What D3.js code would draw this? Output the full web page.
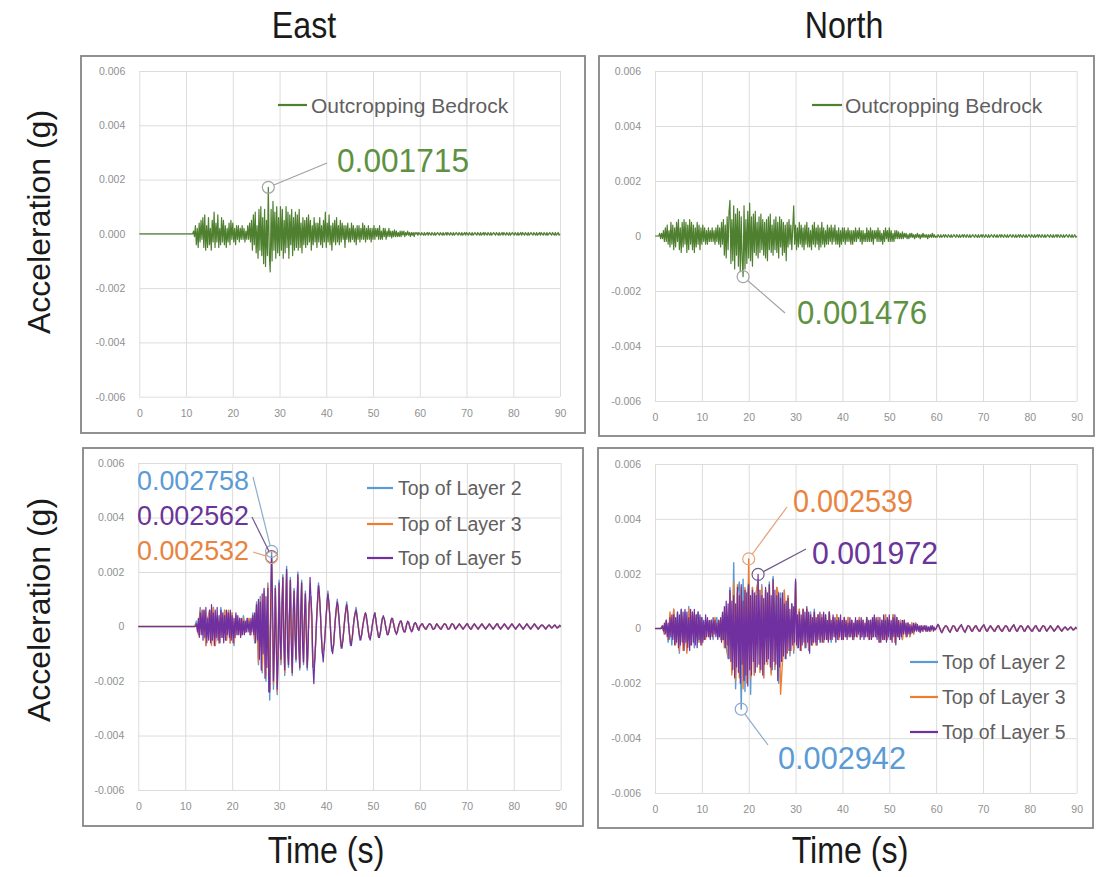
<!DOCTYPE html>
<html><head><meta charset="utf-8">
<script src="https://cdn.jsdelivr.net/npm/d3@7"></script>
<style>body{margin:0;background:#fff}svg{display:block}text{font-family:"Liberation Sans",Arial,sans-serif}</style>
</head><body>
<svg id="chart" width="1096" height="877"></svg>
<script>
// ---------------- data ----------------
const DT_FINE = 0.2;   // sampling interval (s) of the bedrock and Layer 5 records, first sample at t = 0
const DT_COARSE = 0.4; // sampling interval (s) of the Layer 2 and Layer 3 records, first sample at t = 0
const UNIT = 1e-4;     // record values below are in units of 1e-4 g
const xTickValues = [0,10,20,30,40,50,60,70,80,90];
const yTickValues = [0.006,0.004,0.002,0,-0.002,-0.004,-0.006];
const yTickLabelsA = ["0.006","0.004","0.002","0.000","-0.002","-0.004","-0.006"];
const yTickLabelsB = ["0.006","0.004","0.002","0","-0.002","-0.004","-0.006"];
const columnTitles = ["East","North"];
const yTitle = "Acceleration (g)";
const xTitle = "Time (s)";
const seriesNames = ["Outcropping Bedrock","Top of Layer 2","Top of Layer 3","Top of Layer 5"];

// East, outcropping bedrock (dt = 0.2 s)
const eastBedrock = [
0,0,0,0,0,0,0,0,0,0,
0,0,0,0,0,0,0,0,0,0,
0,0,0,0,0,0,0,0,0,0,
0,0,0,0,0,0,0,0,0,0,
0,0,0,0,0,0,0,0,0,0,
0,0,0,0,0,0,0,0,1,-1,
3,-4,2,-5,4,-3,5,-2,6,-5,
7,-6,3,-5,6,-4,2,-6,5,-3,
8,-5,4,-3,7,-5,2,-4,6,-3,
5,-4,3,-5,2,-3,4,-4,5,-2,
4,-3,2,-4,3,-2,3,-3,2,-2,
3,-2,2,-3,1,-2,3,-2,4,-3,
5,-6,7,-4,8,-7,3,-9,9,-6,
10,-8,6,-11,9,-12,5,-8,17.15,-7,
-14,9,-10,12,-6,8,-9,10,-7,6,
-8,10,-6,9,-9,5,-7,10,-5,8,
-9,7,-4,9,-8,6,-6,8,-5,7,
-6,9,-5,4,-7,6,-4,5,-5,6,
-4,7,-3,5,-6,3,-4,6,-3,4,
-5,4,-3,6,-4,3,-5,5,-3,8,
-5,4,-3,7,-4,3,-6,4,-3,5,
-4,6,-3,3,-4,5,-3,4,-2,3,
-5,3,-2,4,-3,2,-3,4,-2,3,
-3,2,-4,3,-2,3,-3,2,-2,4,
-2,3,-3,2,-2,3,-2,2,-3,2,
-2,3,-2,2,-1,2,-2,3,-2,1,
-2,2,-1,2,-2,1,-1,2,-1,1,
-1.5,1,-1,1.5,-1,1,-1,0.5,-1,1,
-1,1,-0.5,1,-1,0.5,-0.5,1,-0.5,0.5,
-1,0.5,-0.5,0.5,-1,0.5,0,0.5,-0.5,0.5,
0,-0.5,0.5,0,-0.5,0.5,-0.5,0,0.5,-0.5,
0.5,0,-0.5,0.5,0,-0.5,0.5,-0.5,0,0.5,
0,-0.5,0.5,0,-0.5,0.5,-0.5,0,0.5,-0.5,
0.5,0,-0.5,0.5,0,-0.5,0.5,-0.5,0,0.5,
0,-0.5,0.5,0,-0.5,0.5,-0.5,0,0.5,-0.5,
0.5,0,-0.5,0.5,0,-0.5,0.5,-0.5,0,0.5,
0,-0.5,0.5,0,-0.5,0.5,-0.5,0,0.5,-0.5,
0.5,0,-0.5,0.5,0,-0.5,0.5,-0.5,0,0.5,
0,-0.5,0.5,0,-0.5,0.5,-0.5,0,0.5,-0.5,
0.5,0,-0.5,0.5,0,-0.5,0.5,-0.5,0,0.5,
0,-0.5,0.5,0,-0.5,0.5,-0.5,0,0.5,-0.5,
0.5,0,-0.5,0.5,0,-0.5,0.5,-0.5,0,0.5,
0,-0.5,0.5,0,-0.5,0.5,-0.5,0,0.5,-0.5,
0.5,0,-0.5,0.5,0,-0.5,0.5,-0.5,0,0.5,
0,-0.5,0.5,0,-0.5,0.5,-0.5,0,0.5,-0.5,
0];

// North, outcropping bedrock (dt = 0.2 s)
const northBedrock = [
0,0,0,0,0,1,-1,1,-1,2,
-2,3,-2,4,-3,2,-4,5,-3,4,
-5,3,-4,5,-2,6,-5,3,-6,5,
-4,6,-3,5,-6,4,-5,6,-3,5,
-5,4,-6,3,-4,5,-3,4,-5,3,
-3,4,-2,3,-3,2,-3,3,-2,2,
-2,3,-2,2,-3,3,-2,4,-3,3,
-4,5,-3,6,-7,4,-8,7,-5,9,
13,-10,6,-9,11,-12,8,-7,10,-11,
9,-13,7,-9,-14.76,11,-12,6,-10,9,
-8,12,-9,7,-11,8,-6,9,-7,5,
-8,7,-6,8,-5,6,-7,5,-8,6,
-9,7,-5,8,-6,4,-7,6,-5,7,
-6,5,-8,7,-4,6,-7,5,-6,4,
-9,5,-4,6,-3,4,-5,3,11,-3,
4,-5,3,-4,5,-3,4,-4,3,-5,
4,-3,5,-4,3,-4,2,-5,4,-3,
5,-4,3,-3,4,-5,3,-4,5,-3,
3,-4,2,-3,4,-3,3,-2,4,-3,
3,-2,4,-3,2,-3,3,-4,2,-3,
3,-2,3,-3,2,-2,3,-2,2,-3,
2,-3,2,-2,3,-2,2,-1,3,-2,
2,-3,2,-2,1,-2,3,-2,2,-2,
3,-2,2,-3,2,-1,2,-2,3,-2,
2,-2,1,-3,2,-2,3,-1,2,-2,
3,-2,2,-2,1,-2,2,-1,2,-1,
1.5,-1,1,-1,1.5,-1,1,-0.5,1,-1,
0.5,-1,1,-0.5,1,-0.5,0.5,-1,0.5,-0.5,
1,-0.5,0.5,-1,0.5,-0.5,1,-0.5,0.5,-0.5,
0.5,-1,0.5,-0.5,0.5,-0.5,1,-0.5,0.5,-0.5,
0,-0.5,0.5,0,-0.5,0.5,-0.5,0,0.5,-0.5,
0.5,0,-0.5,0.5,0,-0.5,0.5,-0.5,0,0.5,
0,-0.5,0.5,0,-0.5,0.5,-0.5,0,0.5,-0.5,
0.5,0,-0.5,0.5,0,-0.5,0.5,-0.5,0,0.5,
0,-0.5,0.5,0,-0.5,0.5,-0.5,0,0.5,-0.5,
0.5,0,-0.5,0.5,0,-0.5,0.5,-0.5,0,0.5,
0,-0.5,0.5,0,-0.5,0.5,-0.5,0,0.5,-0.5,
0.5,0,-0.5,0.5,0,-0.5,0.5,-0.5,0,0.5,
0,-0.5,0.5,0,-0.5,0.5,-0.5,0,0.5,-0.5,
0.5,0,-0.5,0.5,0,-0.5,0.5,-0.5,0,0.5,
0,-0.5,0.5,0,-0.5,0.5,-0.5,0,0.5,-0.5,
0.5,0,-0.5,0.5,0,-0.5,0.5,-0.5,0,0.5,
0,-0.5,0.5,0,-0.5,0.5,-0.5,0,0.5,-0.5,
0.5,0,-0.5,0.5,0,-0.5,0.5,-0.5,0,0.5,
0,-0.5,0.5,0,-0.5,0.5,-0.5,0,0.5,-0.5,
0];

// East, top of Layer 2 (dt = 0.4 s)
const eastLayer2 = [
0,0,0,0,0,0,0,0,0,0,
0,0,0,0,0,0,0,0,0,0,
0,0,0,0,0,0,0,0,0,0,
0,2,-2,7,-3,5,-7,2,6,-4,
7,-7,3,-6,7,-2,6,-5,5,-6,
5,-7,4,-2,3,-3,4,-2,3,2,
-3,5,-6,9,-14,11,-17,13,-20,16,
-27,27.58,-23,15,-25,17,-14,19,-18,22,
-15,18,-18,14,-13,20,-16,17,-14,13,
-16,9,11,-15,-13,3,16,5,-10,-8,
3,13,4,-9,-7,3,10,2,-8,-5,
3,9,1,-7,-4,3,7,1,-5,-3,
2,5,1,-4,-3,2,5,0,-4,-2,
3,3,-1,-3,0,3,1,-2,-2,1,
2,-1,-2,1,1.5,-1,-1.5,1,1,-1,
0,1,0,-1,0,1,0.5,-1,-0.5,1,
0,-1,0,1,0.5,-1,-0.5,1,0.5,-1,
0,1,0,-1,0,1,0,-1,0,1,
0,-1,0,1,0,-1,0,1,0,-1,
0,1,0,-1,0,1,0,-1,0,1,
0,-1,0,1,0,-1,0,1,0,-1,
0,1,0,-1,0,0.5,0,-1,0,0.5,
-0.5,0,0.5,-0.5,0,0];

// East, top of Layer 3 (dt = 0.4 s)
const eastLayer3 = [
0,0,0,0,0,0,0,0,0,0,
0,0,0,0,0,0,0,0,0,0,
0,0,0,0,0,0,0,0,0,0,
0,1,-3,6,-2,6,-7,3,6,-7,
7,-7,2,-6,5,-4,6,-5,6,-6,
5,-6,4,-3,3,-3,3,-2,2,3,
-3,4,-5,8,-13,10,-16,12,-18,15,
-23,25.32,-21,14,-24,15,-13,18,-17,20,
-14,17,-17,13,-12,18,-15,16,-13,12,
-15,8,10,-14,-12,3,15,5,-9,-8,
3,12,4,-8,-7,3,9,2,-7,-5,
3,8,1,-6,-4,3,6,1,-4,-3,
2,5,1,-4,-3,2,5,0,-4,-2,
3,3,-1,-3,0,3,1,-2,-2,1,
2,-1,-2,1,1.5,-1,-1.5,1,1,-1,
0,1,0,-1,0,1,0.5,-1,-0.5,1,
0,-1,0,1,0.5,-1,-0.5,1,0.5,-1,
0,1,0,-1,0,1,0,-1,0,1,
0,-1,0,1,0,-1,0,1,0,-1,
0,1,0,-1,0,1,0,-1,0,1,
0,-1,0,1,0,-1,0,1,0,-1,
0,1,0,-1,0,0.5,0,-1,0,0.5,
-0.5,0,0.5,-0.5,0,0];

// East, top of Layer 5 (dt = 0.2 s)
const eastLayer5 = [
0,0,0,0,0,0,0,0,0,0,
0,0,0,0,0,0,0,0,0,0,
0,0,0,0,0,0,0,0,0,0,
0,0,0,0,0,0,0,0,0,0,
0,0,0,0,0,0,0,0,0,0,
0,0,0,0,0,0,0,0,0,0,
0,0,1,-2,3,-4,5,-3,6,-5,
6,-4,7,-6,3,-5,6,-6,8,-5,
5,-7,6,-4,7,-5,4,-6,6,-4,
5,-6,4,-5,6,-3,5,-4,6,-5,
4,-6,3,-4,5,-3,4,-3,3,-4,
3,-3,2,-3,2,-2,3,-2,2,-3,
3,-2,4,-3,5,-6,8,-5,10,-12,
9,-16,12,-10,14,-19,11,-15,14,-24,
-24,8,25.62,10,-20,-8,14,-6,-23,-10,
16,-4,-12,8,18,-6,-16,6,21,-9,
-14,5,17,-7,-17,6,13,-4,-12,8,
19,-8,-15,5,16,-6,-13,4,12,-3,
-15,-6,8,18,10,4,-14,-21,-12,-6,
3,10,15,12,5,-4,-9,-13,-8,-3,
3,9,12,9,4,-3,-8,-10,-7,-2,
3,7,9,7,2,-3,-7,-8,-5,-1,
3,6,8,6,1,-3,-6,-7,-4,0,
3,5,6,4,1,-2,-4,-5,-3,0,
2,4,5,4,1,-2,-4,-5,-3,0,
2,4,5,3,0,-2,-4,-4,-2,1,
3,4,3,1,-1,-3,-3,-2,0,2,
3,3,1,-1,-2,-3,-2,0,1,2,
2,1,-1,-2,-2,-1,1,2,1.5,0,
-1,-2,-1.5,0,1,1.5,1,0,-1,-1.5,
0,0.5,1,1,0,-0.5,-1,-1,0,0.5,
1,1,0.5,-0.5,-1,-1,-0.5,0.5,1,0.5,
0,-0.5,-1,-1,0,0.5,1,1,0.5,-0.5,
-1,-1,-0.5,0.5,1,1,0.5,-0.5,-1,-0.5,
0,0.5,1,0.5,0,-0.5,-1,-0.5,0,0.5,
1,1,0,-0.5,-1,-1,0,0.5,1,0.5,
0,-0.5,-1,-0.5,0,0.5,1,0.5,0,-0.5,
-1,-0.5,0,0.5,1,0.5,0,-0.5,-1,-0.5,
0,0.5,1,1,0,-0.5,-1,-0.5,0,0.5,
1,0.5,0,-0.5,-1,-0.5,0,0.5,1,0.5,
0,-0.5,-1,-0.5,0,0.5,1,0.5,0,-0.5,
-1,-0.5,0,0.5,1,0.5,0,-0.5,-1,-0.5,
0,0.5,1,0.5,0,-0.5,-1,-0.5,0,0.5,
0.5,0.5,0,-0.5,-1,-0.5,0,0.5,0.5,0,
-0.5,-0.5,0,0.5,0.5,0,-0.5,-0.5,0,0.5,
0];

// North, top of Layer 2 (dt = 0.4 s)
const northLayer2 = [
0,0,0,0,1,-2,3,-5,2,-6,
7,-3,6,-9,7,-2,6,-8,8,-3,
5,-7,2,6,-5,4,-4,1,3,-3,
3,-4,1,4,-3,3,-4,6,-7,-11,
15,-16,24,-22,13,17,-29.42,18,-23,12,
17,-24,15,-17,13,18,-15,16,-18,14,
-13,17,-16,19,-15,15,-20,13,-12,14,
-11,12,-10,9,-9,17,-7,7,-8,7,
-7,7,-8,6,-6,7,-6,5,-5,5,
-5,5,-4,6,-5,4,-3,5,-4,3,
-4,4,-3,4,-3,3,-4,3,-3,4,
-3,3,-3,4,-4,3,-3,4,-3,4,
-5,3,-4,5,-4,3,-4,5,-5,4,
-3,3,-4,3,-3,2,-3,2,-2,2,
1,-1,1,-1,1,-1,0.5,-1,1,-0.5,
0,1.5,0,-1.5,0,1,0.5,-1,-0.5,1,
0.5,-1,0,1,0.5,-1,-0.5,1,0.5,-1,
0,1,0,-1,0,1,0.5,-1,0,1,
0,-1,0,1,0,-1,0,1,0.5,-1,
0,1,0.5,-1,0,1,0.5,-1,0,1,
0,-1,0,1,0,-1,0,1,0.5,-1,
0,1,0,-1,0,1,0,-1,0,0.5,
-0.5,0,0.5,-0.5,0,0];

// North, top of Layer 3 (dt = 0.4 s)
const northLayer3 = [
0,0,0,0,1,-2,3,-4,6,-2,
7,-6,2,-8,6,-8,3,-9,7,-6,
6,-2,5,-5,4,-6,1,-4,3,-3,
3,-3,4,-1,3,-4,5,-7,8,-10,
13,-17,17,-19,16,-18,15,-22,15,-20,
25.39,-18,15,-17,13,17,-16,15,-18,14,
-13,16,-17,17,-14,15,12,-24,-12,14,
-10,12,-9,8,-8,17,-6,7,-8,7,
-6,7,-7,5,-6,6,-6,5,-4,5,
-5,4,-4,6,-4,4,-3,5,-4,3,
-4,4,-3,4,-3,3,-4,3,-3,4,
-3,3,-3,4,-4,3,-3,4,-3,4,
-5,3,-4,5,-4,3,-4,5,-5,4,
-3,3,-4,3,-3,2,-3,2,-2,2,
1,-1,1,-1,1,-1,0.5,-1,1,-0.5,
0,1.5,0,-1.5,0,1,0.5,-1,-0.5,1,
0.5,-1,0,1,0.5,-1,-0.5,1,0.5,-1,
0,1,0,-1,0,1,0.5,-1,0,1,
0,-1,0,1,0,-1,0,1,0.5,-1,
0,1,0.5,-1,0,1,0.5,-1,0,1,
0,-1,0,1,0,-1,0,1,0.5,-1,
0,1,0,-1,0,1,0,-1,0,0.5,
-0.5,0,0.5,-0.5,0,0];

// North, top of Layer 5 (dt = 0.2 s)
const northLayer5 = [
0,0,0,0,0,0,0,0,1,-1,
2,-2,3,-3,2,-4,4,-3,5,-4,
5,-6,4,-5,6,-7,5,-6,7,-5,
6,-8,7,-5,6,-7,4,-8,7,-6,
6,-5,7,-6,5,-7,6,-4,5,-6,
4,-5,3,-4,5,-3,4,-3,3,-4,
3,-3,4,-2,3,-3,2,-4,3,-3,
4,-5,6,-4,8,-7,10,-6,9,-11,
14,-12,10,-15,12,-18,9,-14,15,-16,
12,-20,16,-13,10,-19,14,-17,13,-21,
16,-15,12,-17,14,-12,13,-16,12,-14,
19.72,-13,14,-15,12,-17,11,-13,15,-12,
13,-11,16,-14,12,-15,18,-12,14,-13,
12,-19,13,-14,11,-12,13,-10,9,-11,
10,-9,11,-8,7,-8,9,-6,8,-5,
18,-6,5,-7,6,-8,5,-6,7,-5,
6,-7,8,-5,6,-9,5,-6,4,-5,
6,-5,4,-6,5,-4,6,-5,4,-5,
6,-4,5,-4,3,-5,6,-4,3,-4,
5,-3,4,-5,3,-4,4,-3,5,-4,
3,-4,4,-3,3,-4,2,-3,4,-3,
3,-4,2,-3,4,-3,3,-2,3,-4,
4,-3,3,-4,2,-3,4,-3,3,-4,
3,-4,4,-3,5,-3,4,-4,3,-5,
4,-5,3,-4,5,-4,3,-5,4,-3,
5,-4,3,-5,4,-3,5,-6,4,-3,
3,-4,2,-3,3,-2,3,-2,2,-3,
2,-2,1.5,-2,1,-1.5,2,-1,1.5,-1,
1.5,-1,1,-1.5,1,-1,1,-0.5,1,-1,
1,-1,0.5,-1,1,-0.5,1,-1,0.5,-0.5,
0,1,1.5,1,0,-1,-1.5,-1,0,0.5,
1,1,0.5,-0.5,-1,-1.5,-0.5,0.5,1,1,
0.5,-0.5,-1,-1,0,0.5,1,1.5,0.5,-0.5,
-1,-1.5,-0.5,0.5,1,1,0.5,-0.5,-1,-1,
0,0.5,1,1,0,-0.5,-1,-1,0,0.5,
1,1.5,0.5,-0.5,-1,-1,0,0.5,1,0.5,
0,-0.5,-1,-1,0,0.5,1,1,0,-0.5,
-1,-1,0,0.5,1,1,0.5,-0.5,-1,-1,
0,0.5,1,1.5,0.5,-0.5,-1,-1,0,0.5,
1,1,0.5,-0.5,-1,-1,0,0.5,1,0.5,
0,-0.5,-1,-1,0,0.5,1,1,0,-0.5,
-1,-1,0,0.5,1,1,0.5,-0.5,-1,-0.5,
0,0.5,1,0.5,0,-0.5,-1,-0.5,0,0.5,
1,0.5,0,-0.5,-1,-0.5,0,0.5,0.5,0,
-0.5,-0.5,0,0.5,0.5,0,-0.5,-0.5,0,0.5,
0];

// peak annotations: panel index, time (s), value (g), label, series index
const peakPanels = [0,1,2,2,2,3,3,3];
const peakTimes  = [27.6,18.8,28.4,28.4,28.4,20.0,22.0,18.4];
const peakValues = [0.001715,-0.001476,0.002758,0.002562,0.002532,0.002539,0.001972,-0.002942];
const peakLabels = ["0.001715","0.001476","0.002758","0.002562","0.002532","0.002539","0.001972","0.002942"];
const peakSeries = [0,0,1,3,2,2,3,1];

// ---------------- styles / layout ----------------
const lineColors = ["#4f8030","#5b9bd5","#ed7d31","#7030a0"];
const lineWidths = [1.2,1.4,1.4,1.2];
const textColors = ["#5e9140","#5b9bd5","#e8843f","#6a3599"];
const leaderColors = ["#a3a3a3","#8eaacb","#e3a57c","#6f5a8e"];
const peakLayout = [
  {tx:337,ty:172,fs:33,tl:132,sx:327,sy:163},
  {tx:797,ty:324,fs:33,tl:130,sx:785,sy:313},
  {tx:137,ty:490,fs:28,tl:112,sx:253,sy:477},
  {tx:137,ty:525,fs:28,tl:112,sx:252,sy:517},
  {tx:137,ty:560,fs:28,tl:112,sx:253,sy:552},
  {tx:793,ty:512,fs:32,tl:120,sx:787,sy:507},
  {tx:812,ty:564,fs:32,tl:126,sx:806,sy:549},
  {tx:778,ty:769,fs:32,tl:128,sx:768,sy:745}
];

const panels = [
  {frame:[81,56,585,433], plot:[139.3,71,560,396.7], yLabels:yTickLabelsA,
   series:[{d:eastBedrock,s:0,dt:DT_FINE}],
   legend:{x1:278,x2:307,tx:311,ys:[105],fs:21}},
  {frame:[599,56,1094,436], plot:[655,71,1076.7,401], yLabels:yTickLabelsB,
   series:[{d:northBedrock,s:0,dt:DT_FINE}],
   legend:{x1:812,x2:842,tx:845,ys:[105],fs:21}},
  {frame:[83,448,583,826], plot:[138.3,463,560.7,790], yLabels:yTickLabelsB,
   series:[{d:eastLayer2,s:1,dt:DT_COARSE},{d:eastLayer3,s:2,dt:DT_COARSE},{d:eastLayer5,s:3,dt:DT_FINE}],
   legend:{x1:367,x2:393,tx:398,ys:[488,524,558],fs:19.5}},
  {frame:[598,448,1093,828], plot:[655,464,1076.7,793], yLabels:yTickLabelsB,
   series:[{d:northLayer2,s:1,dt:DT_COARSE},{d:northLayer3,s:2,dt:DT_COARSE},{d:northLayer5,s:3,dt:DT_FINE}],
   legend:{x1:910,x2:938,tx:942,ys:[662,697,732],fs:19.5}}
];

const svg = d3.select("#chart");
svg.append("rect").attr("width",1096).attr("height",877).attr("fill","#fff");

panels.forEach((p, pi) => {
  const g = svg.append("g");
  const [pl, pt, pr, pb] = p.plot;
  const x = d3.scaleLinear().domain([0,90]).range([pl, pr]);
  const y = d3.scaleLinear().domain([-0.006,0.006]).range([pb, pt]);

  g.append("rect").attr("x",p.frame[0]).attr("y",p.frame[1])
    .attr("width",p.frame[2]-p.frame[0]).attr("height",p.frame[3]-p.frame[1])
    .attr("fill","#fff").attr("stroke","#858585").attr("stroke-width",1.8);

  // grid
  g.append("g").attr("transform",`translate(0,${pb})`)
    .call(d3.axisBottom(x).tickValues(xTickValues).tickSize(-(pb-pt)).tickFormat(""))
    .call(s => { s.select(".domain").remove(); s.selectAll("line").attr("stroke","#dcdcdc"); });
  g.append("g").attr("transform",`translate(${pl},0)`)
    .call(d3.axisLeft(y).tickValues(yTickValues).tickSize(-(pr-pl)).tickFormat(""))
    .call(s => { s.select(".domain").remove(); s.selectAll("line").attr("stroke","#dcdcdc"); });

  // tick labels
  g.append("g").attr("transform",`translate(0,${pb})`)
    .call(d3.axisBottom(x).tickValues(xTickValues).tickSize(0).tickPadding(13).tickFormat(d => String(d)))
    .call(s => { s.select(".domain").remove();
      s.selectAll("text").attr("fill","#909090").style("font-size","10.5px").style("font-family","'Liberation Sans',Arial,sans-serif"); });
  g.append("g").attr("transform",`translate(${pl},0)`)
    .call(d3.axisLeft(y).tickValues(yTickValues).tickSize(0).tickPadding(14)
      .tickFormat((d,i) => p.yLabels[i]))
    .call(s => { s.select(".domain").remove();
      s.selectAll("text").attr("fill","#909090").style("font-size","10.5px").style("font-family","'Liberation Sans',Arial,sans-serif"); });

  // series
  p.series.forEach(sr => {
    const line = d3.line().x((d,i) => x(i*sr.dt)).y(d => y(d*UNIT));
    g.append("path").datum(sr.d).attr("d", line)
      .attr("fill","none").attr("stroke", lineColors[sr.s])
      .attr("stroke-width",lineWidths[sr.s]).attr("stroke-linejoin","round");
  });

  // legend
  p.series.forEach((sr, k) => {
    const ly = p.legend.ys[k];
    g.append("line").attr("x1",p.legend.x1).attr("x2",p.legend.x2).attr("y1",ly).attr("y2",ly)
      .attr("stroke",lineColors[sr.s]).attr("stroke-width",2.2);
    g.append("text").attr("x",p.legend.tx).attr("y",ly).attr("dy","0.36em")
      .attr("fill","#5f5f5f").style("font-size",p.legend.fs+"px").text(seriesNames[sr.s]);
  });

  // annotations
  peakPanels.forEach((pp, k) => {
    if (pp !== pi) return;
    const L = peakLayout[k];
    const cx = x(peakTimes[k]), cy = y(peakValues[k]);
    const r = 6;
    const dx = L.sx - cx, dy = L.sy - cy, dl = Math.hypot(dx, dy);
    const s = peakSeries[k];
    g.append("line").attr("x1",L.sx).attr("y1",L.sy)
      .attr("x2",cx + dx/dl*r).attr("y2",cy + dy/dl*r)
      .attr("stroke",leaderColors[s]).attr("stroke-width",1.2);
    g.append("circle").attr("cx",cx).attr("cy",cy).attr("r",r)
      .attr("fill","none").attr("stroke",leaderColors[s]).attr("stroke-width",1.2);
    g.append("text").attr("x",L.tx).attr("y",L.ty)
      .attr("textLength",L.tl).attr("lengthAdjust","spacingAndGlyphs")
      .attr("fill",textColors[s]).style("font-size",L.fs+"px").text(peakLabels[k]);
  });
});

// titles
[[304,38],[844,38]].forEach((pos,i) => {
  svg.append("text").attr("transform",`translate(${pos[0]},${pos[1]}) scale(0.87,1)`)
    .attr("text-anchor","middle").attr("fill","#1a1a1a").style("font-size","37px").text(columnTitles[i]);
});
[[326,863],[850,863]].forEach(pos => {
  svg.append("text").attr("transform",`translate(${pos[0]},${pos[1]}) scale(0.87,1)`)
    .attr("text-anchor","middle").attr("fill","#1a1a1a").style("font-size","37px").text(xTitle);
});
[222,610].forEach(cy => {
  svg.append("text").attr("transform",`translate(50,${cy}) rotate(-90)`)
    .attr("text-anchor","middle").attr("fill","#1a1a1a").style("font-size","32px").text(yTitle);
});
</script>
</body></html>
